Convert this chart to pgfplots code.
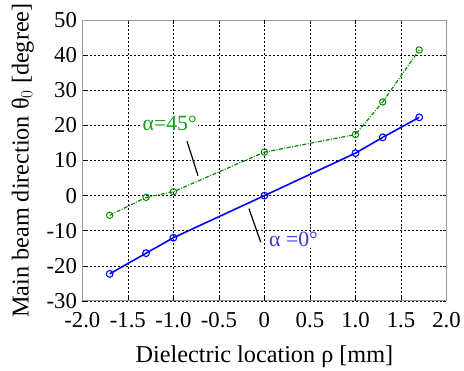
\documentclass[border=0pt]{standalone}
\usepackage{fontspec}
\setmainfont{Liberation Serif}
\usepackage{pgfplots}
\pgfplotsset{compat=1.18}
\definecolor{bl}{RGB}{0,0,255}
\definecolor{gr}{RGB}{0,140,0}
\definecolor{grt}{RGB}{20,160,20}
\definecolor{blt}{RGB}{60,60,220}
\begin{document}
\begin{tikzpicture}[x=1bp,y=1bp]
\begin{axis}[
  scale only axis,
  width=367bp, height=283bp,
  xmin=-2, xmax=2, ymin=-30, ymax=50,
  xtick={-2,-1.5,-0.5,0.5,1.5,2},
  xticklabels={-2.0,-1.5,-0.5,0.5,1.5,2.0},
  extra x ticks={-1,0,1},
  extra x tick labels={-1.0,0,1.0},
  extra x tick style={grid style={gray, dash pattern=on 2.5bp off 2bp, line width=1.3bp}},
  ytick={-30,-20,...,50},
  yticklabels={-30,-20,-10,0,10,20,30,40,50},
  grid=major,
  major grid style={black, dash pattern=on 2bp off 2bp, line width=0.6bp},
  axis line style={gray!80, line width=1bp},
  tick style={black, line width=0.6bp},
  tick align=inside,
  major tick length=4bp,
  ticklabel style={font=\fontsize{23}{24}\selectfont},
  xticklabel style={yshift=-8bp},
  yticklabel style={xshift=-2bp},
  label style={font=\fontsize{24.5}{26}\selectfont},
  xlabel={Dielectric location ρ [mm]},
  ylabel={Main beam direction θ$_0$ [degree]},
  xlabel style={yshift=-11bp},
  ylabel style={yshift=6bp},
  clip=false,
]
\addplot[bl, line width=1.6bp, mark=o, mark size=3.4bp, mark options={solid, line width=1.1bp}]
  coordinates {(-1.7,-22.3) (-1.3,-16.4) (-1.0,-12.0) (0,0) (1.0,12.1) (1.3,16.6) (1.7,22.3)};
\addplot[gr, line width=1.2bp, dash pattern=on 4bp off 1.5bp on 1bp off 1.5bp, mark=o, mark size=3.2bp, mark options={solid, line width=1bp}]
  coordinates {(-1.7,-5.6) (-1.3,-0.5) (-1.0,1.1) (0,12.4) (1.0,17.4) (1.3,26.7) (1.7,41.5)};
\node[fill=white, inner sep=1bp, text=grt, font=\fontsize{22}{24}\selectfont] at (axis cs:-1.04,20.6) {α=45°};
\draw[black, line width=1.2bp] (axis cs:-0.85,15.5) -- (axis cs:-0.73,5.7);
\node[fill=white, inner sep=1bp, text=blt, font=\fontsize{22}{24}\selectfont] at (axis cs:0.32,-12.6) {α =0°};
\draw[black, line width=1.2bp] (axis cs:-0.17,-3.7) -- (axis cs:-0.04,-13.3);
\end{axis}
\path[use as bounding box] ([xshift=-83bp,yshift=-68bp]current axis.south west) rectangle ([xshift=14bp,yshift=17bp]current axis.north east);
\end{tikzpicture}
\end{document}
